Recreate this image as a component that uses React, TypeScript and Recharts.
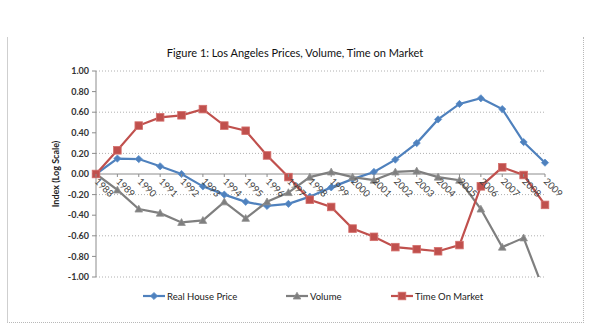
import React from 'react';
import { LineChart, Line, XAxis, YAxis, CartesianGrid, ReferenceLine, Legend } from 'recharts';

const years = ['1988','1989','1990','1991','1992','1993','1994','1995','1996','1997','1998','1999','2000','2001','2002','2003','2004','2005','2006','2007','2008','2009'];
const realHousePrice = [0, 0.15, 0.145, 0.075, 0.0, -0.12, -0.2, -0.27, -0.31, -0.29, -0.22, -0.13, -0.05, 0.02, 0.14, 0.3, 0.53, 0.68, 0.735, 0.63, 0.31, 0.11];
const volume = [0, -0.155, -0.34, -0.38, -0.47, -0.45, -0.27, -0.43, -0.27, -0.18, -0.03, 0.02, -0.03, -0.06, 0.02, 0.03, -0.03, -0.06, -0.34, -0.71, -0.62, -1.16];
const timeOnMarket = [0, 0.23, 0.47, 0.55, 0.57, 0.63, 0.47, 0.42, 0.18, -0.03, -0.25, -0.32, -0.53, -0.61, -0.71, -0.73, -0.75, -0.69, -0.12, 0.065, -0.01, -0.3];
const yTicks = [-1, -0.8, -0.6, -0.4, -0.2, 0, 0.2, 0.4, 0.6, 0.8, 1];

const data = years.map((y, i) => ({ year: y, price: realHousePrice[i], volume: volume[i], tom: timeOnMarket[i] }));

const W = 600;
const H = 333;
const M = { top: 71, right: 55, bottom: 36, left: 0 };
const X_AXIS_H = 20;
const Y_MIN = -1;
const Y_MAX = 1;
const plotH = H - M.top - M.bottom - X_AXIS_H;
const zeroY = M.top + plotH * (Y_MAX - 0) / (Y_MAX - Y_MIN);

const FONT = 'Lato, "Open Sans", sans-serif';
const BLUE = '#4F81BD';
const RED = '#C0504D';
const GRAY = '#7F7F7F';

const Diamond = (props: any) => {
  const { cx, cy } = props;
  if (cx == null || cy == null) return null;
  const r = 3.6;
  return <polygon points={`${cx},${cy - r} ${cx + r},${cy} ${cx},${cy + r} ${cx - r},${cy}`} fill={BLUE} stroke="#5B8FCB" strokeWidth={0.8} />;
};
const Square = (props: any) => {
  const { cx, cy } = props;
  if (cx == null || cy == null) return null;
  const r = 3.8;
  return <rect x={cx - r} y={cy - r} width={2 * r} height={2 * r} fill={RED} stroke="#D46F6C" strokeWidth={0.8} />;
};
const Triangle = (props: any) => {
  const { cx, cy, value } = props;
  if (cx == null || cy == null) return null;
  if (value < Y_MIN) return null;
  const r = 3.8;
  return <polygon points={`${cx},${cy - r} ${cx + r},${cy + r * 0.8} ${cx - r},${cy + r * 0.8}`} fill={GRAY} stroke="#909090" strokeWidth={0.8} />;
};

const XTick = (props: any) => {
  const { x, payload } = props;
  return (
    <g>
      <line x1={x} y1={zeroY} x2={x} y2={zeroY + 3} stroke="#8c8c8c" strokeWidth={1} />
      <text x={x - 2} y={zeroY + 8} transform={`rotate(45 ${x - 2} ${zeroY + 8})`} textAnchor="start" fontSize={9.5} fontFamily={FONT} fill="#404040">{payload.value}</text>
    </g>
  );
};

const YLabel = (props: any) => {
  const vb = props.viewBox || {};
  const cx = 55;
  const cy = (vb.y ?? M.top) + (vb.height ?? plotH) / 2;
  return (
    <text x={cx} y={cy} transform={`rotate(-90 ${cx} ${cy})`} textAnchor="middle" dominantBaseline="central" fontSize={9} fontFamily={FONT} fontWeight={700} fill="#222">
      Index (Log Scale)
    </text>
  );
};

const legendItems = [
  { label: 'Real House Price', color: BLUE, shape: 'diamond', x: 143 },
  { label: 'Volume', color: GRAY, shape: 'triangle', x: 286 },
  { label: 'Time On Market', color: RED, shape: 'square', x: 391 },
];

const LegendContent = () => (
  <svg width={W} height={20} style={{ display: 'block' }}>
    {legendItems.map((it) => {
      const cx = it.x + 11;
      const cy = 10;
      let marker: any = null;
      if (it.shape === 'diamond') marker = <Diamond cx={cx} cy={cy} />;
      if (it.shape === 'square') marker = <Square cx={cx} cy={cy} />;
      if (it.shape === 'triangle') marker = <Triangle cx={cx} cy={cy} value={0} />;
      return (
        <g key={it.label}>
          <line x1={it.x} y1={cy} x2={it.x + 22} y2={cy} stroke={it.color} strokeWidth={2.2} />
          {marker}
          <text x={it.x + 24} y={cy + 3.5} fontSize={9.5} fontFamily={FONT} fill="#1a1a1a">{it.label}</text>
        </g>
      );
    })}
  </svg>
);

export default function App() {
  return (
    <div style={{ position: 'absolute', left: 0, top: 0, width: W, height: H, background: '#fff' }}>
      <div style={{ position: 'absolute', left: 7, top: 37, width: 575, height: 285, borderLeft: '1px solid #cfcfcf', borderRight: '1px dotted #b8b8b8', borderBottom: '1px dotted #b8b8b8' }} />
      <div style={{ position: 'absolute', left: 0, top: 46, width: 590, textAlign: 'center', fontFamily: FONT, fontSize: 11, color: '#111' }}>
        Figure 1: Los Angeles Prices, Volume, Time on Market
      </div>
      <div style={{ position: 'absolute', left: 0, top: 0 }}>
        <LineChart width={W} height={H} data={data} margin={M}>
          <CartesianGrid vertical={false} stroke="#b0b0b0" strokeDasharray="1 2" />
          <YAxis
            type="number"
            domain={[Y_MIN, Y_MAX]}
            ticks={yTicks}
            allowDataOverflow
            width={96}
            axisLine={{ stroke: '#8c8c8c' }}
            tickLine={{ stroke: '#8c8c8c' }}
            tickSize={4}
            tickMargin={3}
            tickFormatter={(v: number) => v.toFixed(2)}
            tick={{ fontSize: 9, fontFamily: FONT, fontWeight: 700, fill: '#333' }}
            label={<YLabel />}
          />
          <XAxis dataKey="year" height={X_AXIS_H} axisLine={false} tickLine={false} interval={0} tick={<XTick />} padding={{ left: 0, right: 0 }} />
          <ReferenceLine y={0} stroke="#8c8c8c" strokeWidth={1} />
          <Legend layout="horizontal" verticalAlign="middle" align="center" wrapperStyle={{ top: 286, left: 0, width: W }} content={<LegendContent />} />
          <Line dataKey="price" stroke={BLUE} strokeWidth={2.2} dot={<Diamond />} isAnimationActive={false} />
          <Line dataKey="volume" stroke={GRAY} strokeWidth={2.2} dot={<Triangle />} isAnimationActive={false} />
          <Line dataKey="tom" stroke={RED} strokeWidth={2.2} dot={<Square />} isAnimationActive={false} />
        </LineChart>
      </div>
    </div>
  );
}
